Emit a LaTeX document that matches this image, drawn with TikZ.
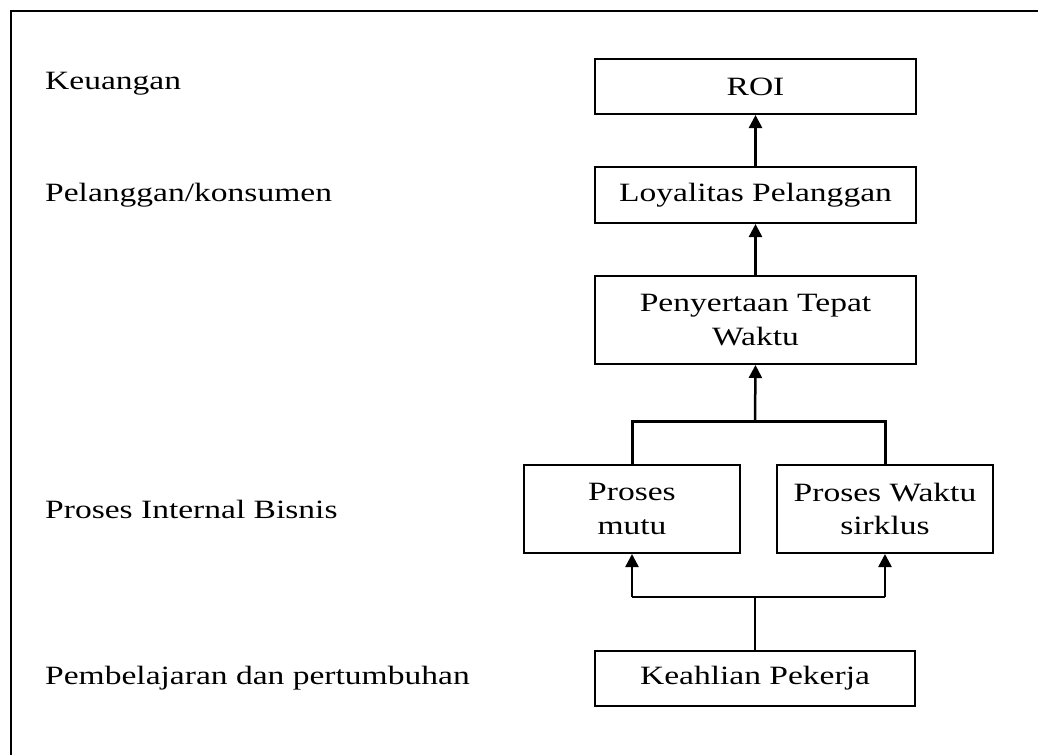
\documentclass[tikz,border=0pt]{standalone}
\usepackage{fontspec}
\setmainfont{Liberation Serif}[FakeStretch=1.27]
\usetikzlibrary{arrows.meta}
\begin{document}
\begin{tikzpicture}[x=1pt,y=-1pt,
  box/.style={draw,line width=2pt,inner sep=0pt,align=center,
    font=\fontsize{26.4}{33.5}\selectfont},
  lbl/.style={anchor=base west,inner sep=0pt,font=\fontsize{26.4}{33}\selectfont},
  conn/.style={line width=2.4pt},
  arr/.style={line width=2.5pt,-{Triangle[length=13pt,width=13pt]}}]
\useasboundingbox (0,0) rectangle (1038,755);
\draw[line width=2pt] (1038,11) -- (11,11) -- (11,755);
% left labels
\node[lbl] (lk) at (45,89) {Keuangan};
\node[lbl] (lp) at (45,201) {Pelanggan/konsumen};
\node[lbl] (li) at (45,518) {Proses Internal Bisnis};
\node[lbl] (lb) at (45,684) {Pembelajaran dan pertumbuhan};
% boxes
\node[box,minimum width=321pt,minimum height=55pt] (roi) at (755.5,86.5) {ROI};
\node[box,minimum width=321pt,minimum height=56pt] (loy) at (755.5,195) {Loyalitas Pelanggan};
\node[box,minimum width=321pt,minimum height=88pt] (pen) at (755.5,320) {Penyertaan Tepat\\Waktu};
\node[box,minimum width=216pt,minimum height=88pt] (mutu) at (632,509) {Proses\\mutu};
\node[box,minimum width=216pt,minimum height=88pt] (wkt) at (885,509) {Proses Waktu\\sirklus};
\node[box,minimum width=320pt,minimum height=55pt] (kea) at (755,678.5) {Keahlian Pekerja};
% connectors
\coordinate (top) at (755,421);
\coordinate (bot) at (755,597);
\draw[arr] (loy.north -| roi.south) -- (roi.south);
\draw[arr] (pen.north) -- (loy.south);
\draw[conn,line width=3pt] (mutu.north) -- (mutu.north |- top) -- (wkt.north |- top) -- (wkt.north);
\draw[arr] (top) -- (pen.south);
\draw[conn] (kea.north) -- (bot);
\draw[conn] (mutu.south |- bot) -- (wkt.south |- bot);
\draw[arr] (mutu.south |- bot) -- (mutu.south);
\draw[arr] (wkt.south |- bot) -- (wkt.south);
\end{tikzpicture}
\end{document}
